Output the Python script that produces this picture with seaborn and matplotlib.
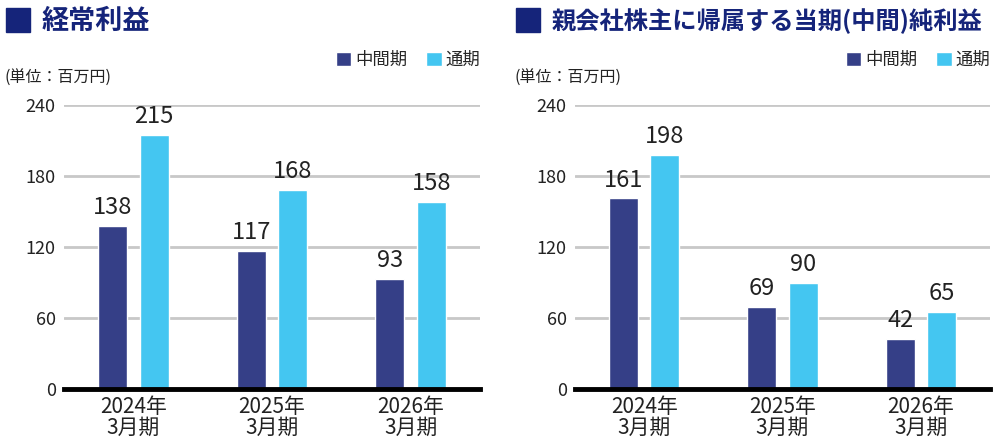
import pandas as pd
import seaborn as sns
import matplotlib.pyplot as plt
from matplotlib.patches import Rectangle

# Data
periods = ["2024年\n3月期", "2025年\n3月期", "2026年\n3月期"]
series_names = ["中間期", "通期"]

ordinary_interim = [138, 117, 93]
ordinary_full = [215, 168, 158]

net_interim = [161, 69, 42]
net_full = [198, 90, 65]

titles = ["経常利益", "親会社株主に帰属する当期(中間)純利益"]
unit_label = "(単位：百万円)"
y_ticks = [0, 60, 120, 180, 240]

colors = {"中間期": "#353f87", "通期": "#44c6f1"}
title_color = "#15247a"


def make_frame(interim, full):
    return pd.DataFrame({
        "period": periods * 2,
        "kind": [series_names[0]] * 3 + [series_names[1]] * 3,
        "value": interim + full,
    })


sns.set_theme(style="white")
plt.rcParams["font.family"] = ["Noto Sans CJK JP", "DejaVu Sans"]

fig = plt.figure(figsize=(10, 4.47), dpi=100)
W, H = 1000, 447

# (data, axes left px, axes right px, square x, title x, title size, unit x)
panels = [
    (make_frame(ordinary_interim, ordinary_full), 64, 480, 6, 42, 19.5, 5),
    (make_frame(net_interim, net_full), 575, 990, 516, 552, 17.5, 515),
]

for i, (df, x0, x1, sq_x, title_x, title_size, unit_x) in enumerate(panels):
    ax = fig.add_axes([x0 / W, 1 - 389 / H, (x1 - x0) / W, (389 - 105) / H])
    sns.barplot(data=df, x="period", y="value", hue="kind", hue_order=series_names,
                palette=colors, width=0.6, gap=0.3, ax=ax, saturation=1, errorbar=None)
    for cont in ax.containers:
        ax.bar_label(cont, padding=5, fontsize=17, color="#222222")

    ax.set_ylim(0, 240)
    ax.set_xlim(-0.5, 2.5)
    ax.set_yticks(y_ticks)
    ax.set_xlabel("")
    ax.set_ylabel("")
    ax.yaxis.grid(True, color="#c8c8c8", linewidth=2)
    ax.set_axisbelow(True)
    for s in ["top", "right", "left"]:
        ax.spines[s].set_visible(False)
    ax.spines["bottom"].set_color("black")
    ax.spines["bottom"].set_linewidth(3.5)
    ax.tick_params(axis="y", length=0, pad=6, labelsize=13, labelcolor="#222222")
    ax.tick_params(axis="x", length=0, pad=5, labelsize=15, labelcolor="#222222")
    for lab in ax.get_xticklabels():
        lab.set_linespacing(0.95)

    ax.legend(loc="center right", bbox_to_anchor=(1.0, 1.158), ncol=2, frameon=False,
              borderpad=0, borderaxespad=0, handlelength=0.9, handleheight=0.9,
              handletextpad=0.2, columnspacing=1.1, fontsize=12.5)

    # title square and text
    fig.patches.append(Rectangle((sq_x / W, 1 - 32 / H), 24 / W, 24 / H,
                                 transform=fig.transFigure, color=title_color))
    fig.text(title_x / W, 1 - 21 / H, titles[i], fontsize=title_size, fontweight="bold",
             color=title_color, va="center", ha="left")
    fig.text(unit_x / W, 1 - 78 / H, unit_label, fontsize=11.5, color="#222222",
             va="center", ha="left")

plt.savefig("out.png", dpi=100)
